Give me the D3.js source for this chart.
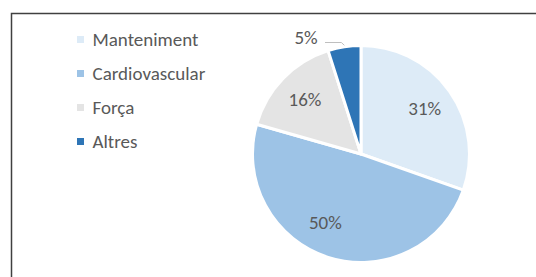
<!DOCTYPE html>
<html><head><meta charset="utf-8">
<script src="https://cdn.jsdelivr.net/npm/d3@7"></script>
<style>
html,body{margin:0;padding:0;background:#fff;}
svg{display:block;}
text{font-family:Carlito, Lato, "Liberation Sans", sans-serif;}
</style></head>
<body>
<svg id="chart" width="536" height="277"></svg>
<script>
const categories = ["Manteniment", "Cardiovascular", "Força", "Altres"];
const values = [31, 50, 16, 5];
const valueLabels = ["31%", "50%", "16%", "5%"];
const colors = ["#DDEBF7", "#9DC3E6", "#E4E4E4", "#2E75B6"];

const svg = d3.select("#chart");

// frame (top and left edges visible)
svg.append("path")
  .attr("d", "M11.5,277 V13.5 H536")
  .attr("fill", "none").attr("stroke", "#404040").attr("stroke-width", 1.5);

const cx = 361, cy = 154, R = 108.5;
const pie = d3.pie().sort(null).value(d => d)(values);
const arc = d3.arc().innerRadius(0).outerRadius(R);
const g = svg.append("g").attr("transform", `translate(${cx},${cy})`);

g.selectAll("path.slice").data(pie).enter().append("path")
  .attr("class", "slice")
  .attr("d", arc)
  .attr("fill", (d, i) => colors[i])
  .attr("stroke", "#fff").attr("stroke-width", 3).attr("stroke-linejoin", "round");

// labels
const labelArc = d3.arc().innerRadius(R * 0.72).outerRadius(R * 0.72);
const nudges = [[0, 0], [-12, -6], [0, 0], [0, 0]];
pie.forEach((d, i) => {
  let x, y;
  if (i === 3) {
    const a = (d.startAngle + d.endAngle) / 2;
    const ex = R * Math.sin(a), ey = -R * Math.cos(a);
    x = -55; y = -117;
    g.append("polyline")
      .attr("points", [[x + 19, y + 5.5], [ex - 3, y + 5.5], [ex, ey - 1.5]].map(p => p.join(",")).join(" "))
      .attr("fill", "none").attr("stroke", "#BFBFBF").attr("stroke-width", 1);
  } else {
    const c = labelArc.centroid(d);
    x = c[0] + nudges[i][0]; y = c[1] + nudges[i][1];
  }
  g.append("text")
    .attr("x", x).attr("y", y)
    .attr("text-anchor", "middle").attr("dominant-baseline", "central")
    .attr("font-size", 19).attr("fill", "#595959")
    .text(valueLabels[i]);
});

// legend
const legend = svg.append("g");
const rowY = d3.scalePoint().domain(categories).range([39.5, 141.5]);
categories.forEach((c, i) => {
  const y = rowY(c);
  legend.append("rect").attr("x", 77).attr("y", y - 3.5).attr("width", 7).attr("height", 7).attr("fill", colors[i]);
  legend.append("text").attr("x", 92.5).attr("y", y).attr("dominant-baseline", "central")
    .attr("font-size", 19).attr("fill", "#595959").text(c);
});
</script>
</body></html>
